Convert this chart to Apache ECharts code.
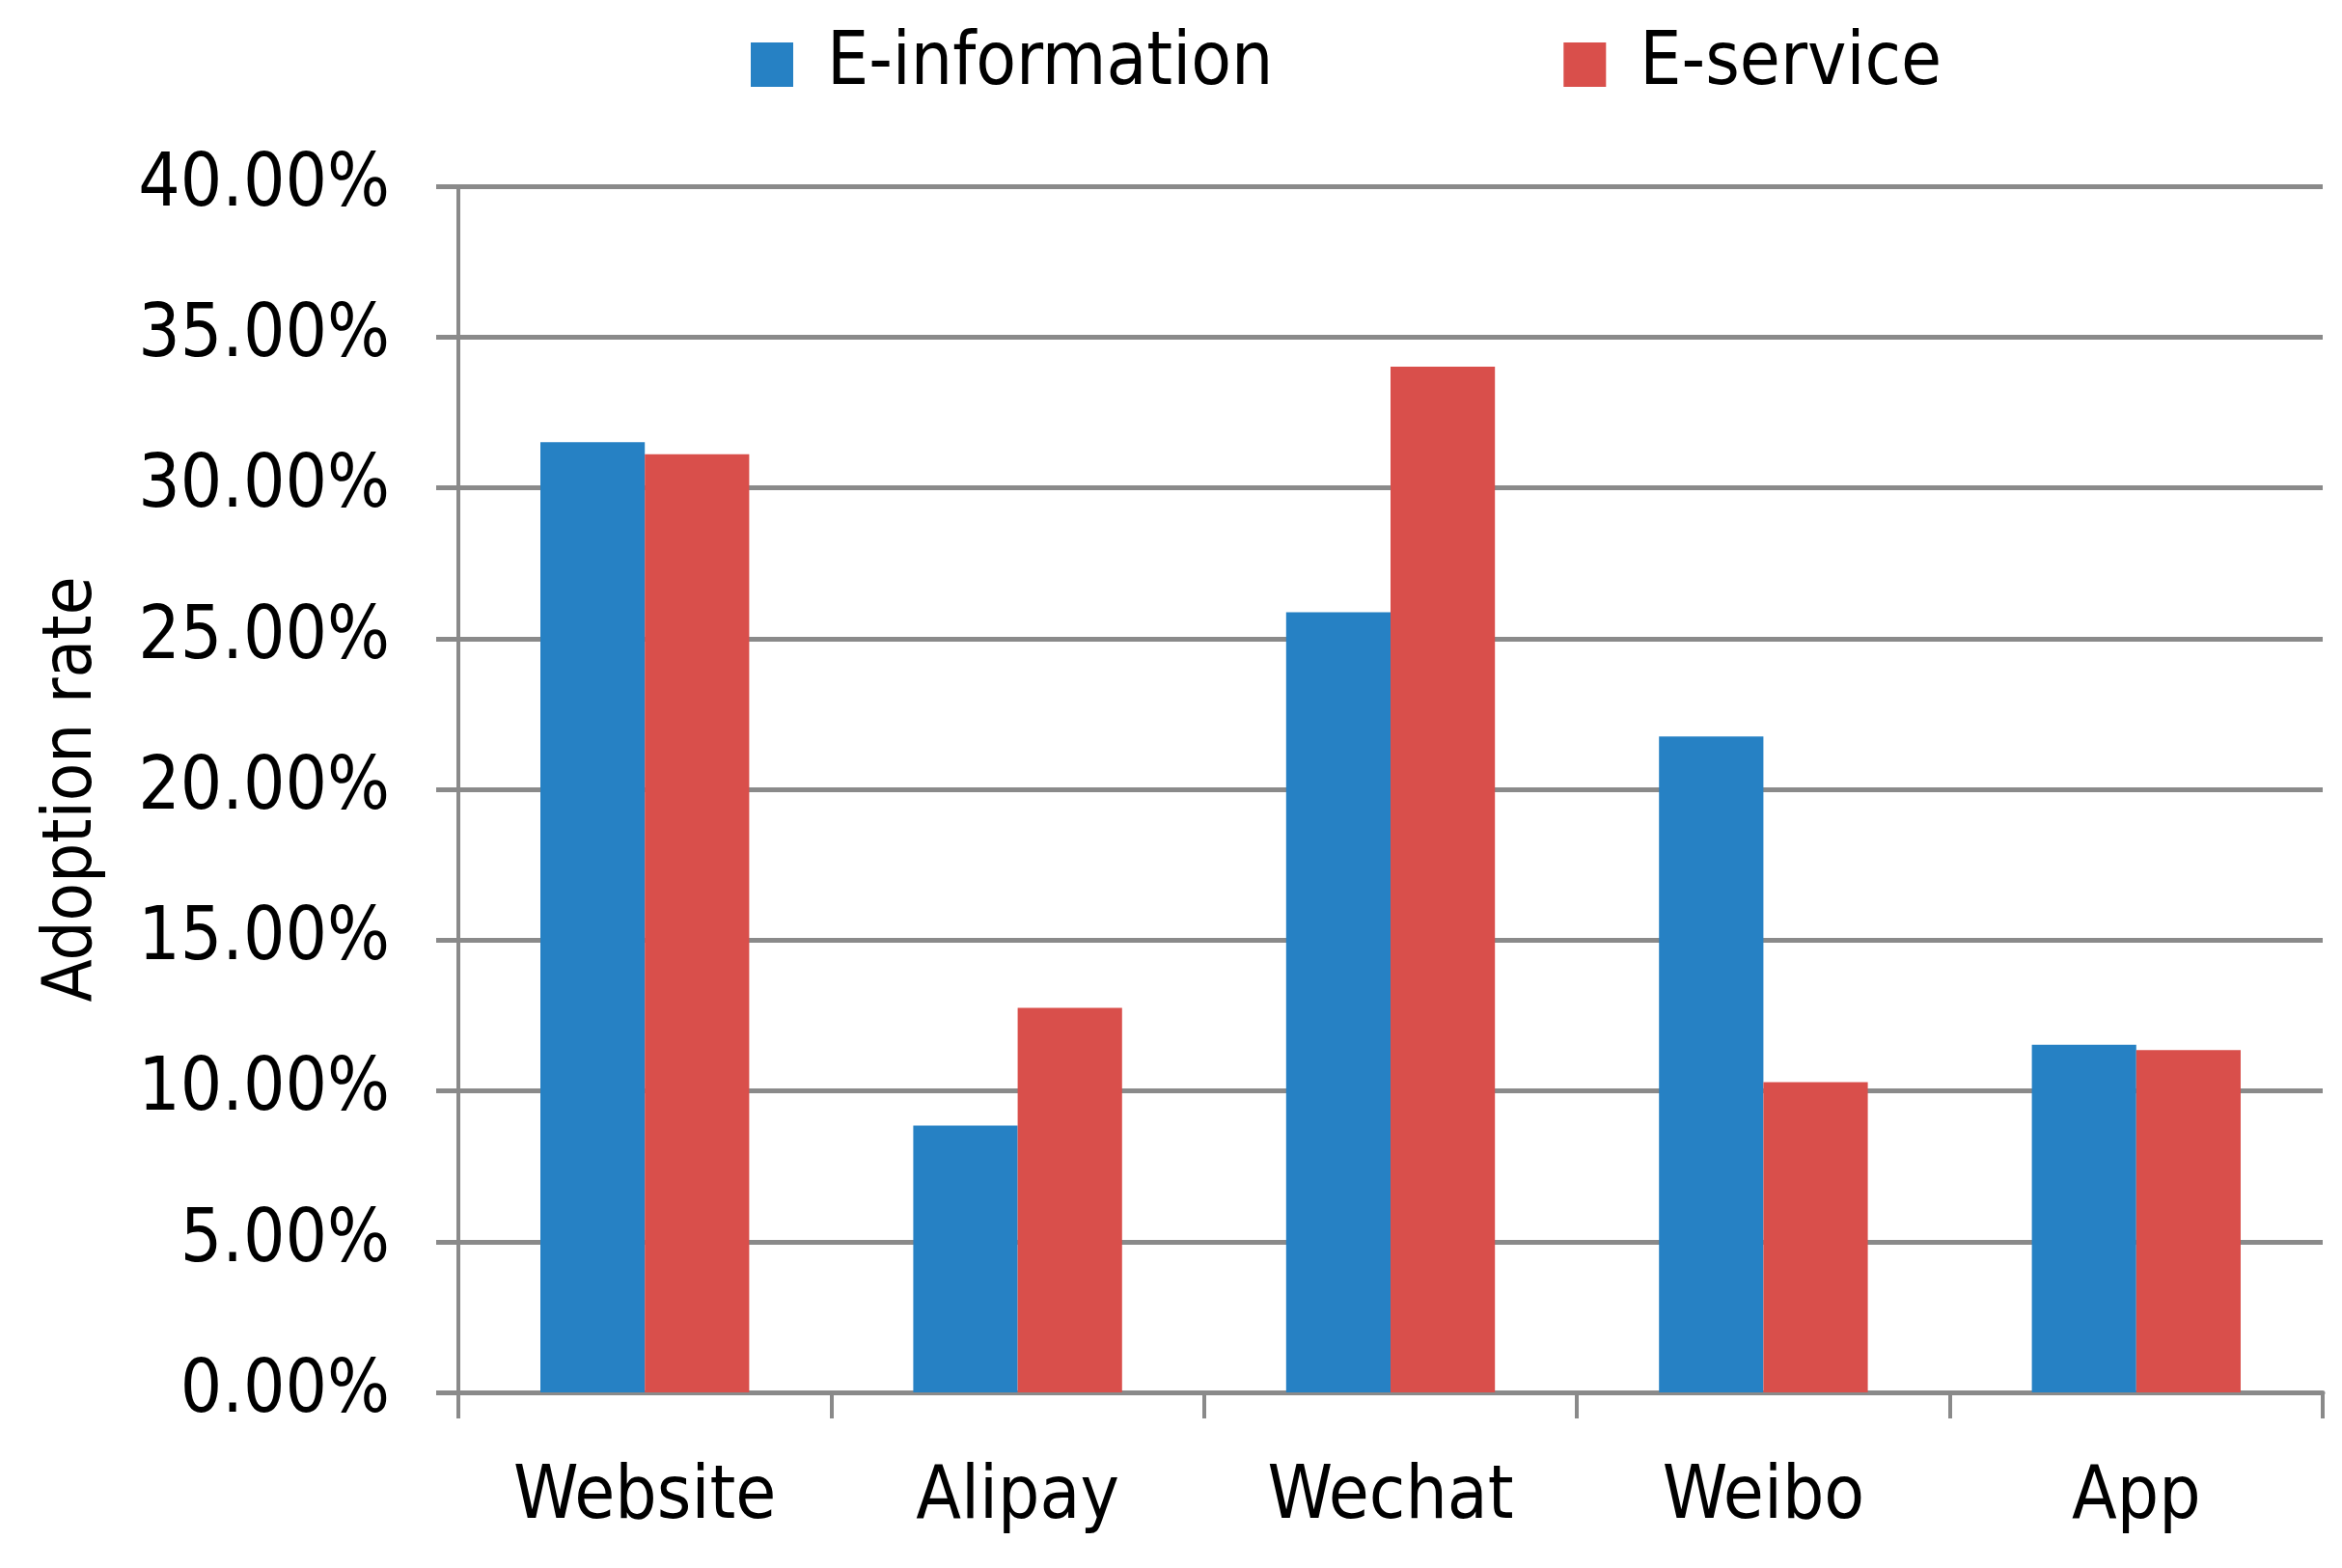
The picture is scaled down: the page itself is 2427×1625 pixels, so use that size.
<!DOCTYPE html>
<html>
<head>
<meta charset="utf-8">
<script src="https://cdn.jsdelivr.net/npm/echarts@6/dist/echarts.min.js"></script>
<style>
html,body{margin:0;padding:0;background:#fff;}
#chart{width:2427px;height:1625px;}
</style>
</head>
<body>
<div id="chart"></div>
<script>
const categories = ['Website', 'Alipay', 'Wechat', 'Weibo', 'App'];
const seriesNames = ['E-information', 'E-service'];
const eInformation = [31.51, 8.85, 25.87, 21.75, 11.53];
const eService = [31.11, 12.75, 34.02, 10.29, 11.35];
const yTicks = { min: 0, max: 40, interval: 5 };
const yAxisTitle = 'Adoption rate';

const FONT = '"DejaVu Sans Condensed", "DejaVu Sans", sans-serif';
const TXT = '#000000';
const GRIDC = '#8a8a8a';

const chart = echarts.init(document.getElementById('chart'), null, { renderer: 'canvas' });
chart.setOption({
  backgroundColor: '#ffffff',
  animation: false,
  legend: {
    left: 773,
    top: 24,
    itemWidth: 44,
    itemHeight: 46,
    itemGap: 301,
    icon: 'rect',
    data: seriesNames,
    textStyle: { fontFamily: FONT, fontSize: 76, color: TXT, padding: [0, 0, 0, 30] }
  },
  grid: { left: 475, right: 20, top: 193, bottom: 182, containLabel: false },
  xAxis: {
    type: 'category',
    data: categories,
    axisLine: { show: true, lineStyle: { color: GRIDC, width: 5 } },
    axisTick: { show: true, length: 27, lineStyle: { color: GRIDC, width: 4 } },
    axisLabel: { margin: 72, fontFamily: FONT, fontSize: 76, color: TXT }
  },
  yAxis: {
    type: 'value',
    min: yTicks.min,
    max: yTicks.max,
    interval: yTicks.interval,
    name: yAxisTitle,
    nameLocation: 'middle',
    nameGap: 364,
    nameTextStyle: { fontFamily: FONT, fontSize: 72, color: TXT },
    axisLine: { show: true, lineStyle: { color: GRIDC, width: 4 } },
    axisTick: { show: true, length: 23, lineStyle: { color: GRIDC, width: 5 } },
    splitLine: { show: true, lineStyle: { color: GRIDC, width: 5 } },
    axisLabel: {
      margin: 71,
      fontFamily: FONT, fontSize: 76, color: TXT,
      formatter: v => v.toFixed(2) + '%'
    }
  },
  series: [
    { name: seriesNames[0], type: 'bar', data: eInformation, barGap: '0%', barCategoryGap: '44%',
      itemStyle: { color: '#2681c4' } },
    { name: seriesNames[1], type: 'bar', data: eService, barGap: '0%', barCategoryGap: '44%',
      itemStyle: { color: '#d94f4b' } }
  ]
});
</script>
</body>
</html>
